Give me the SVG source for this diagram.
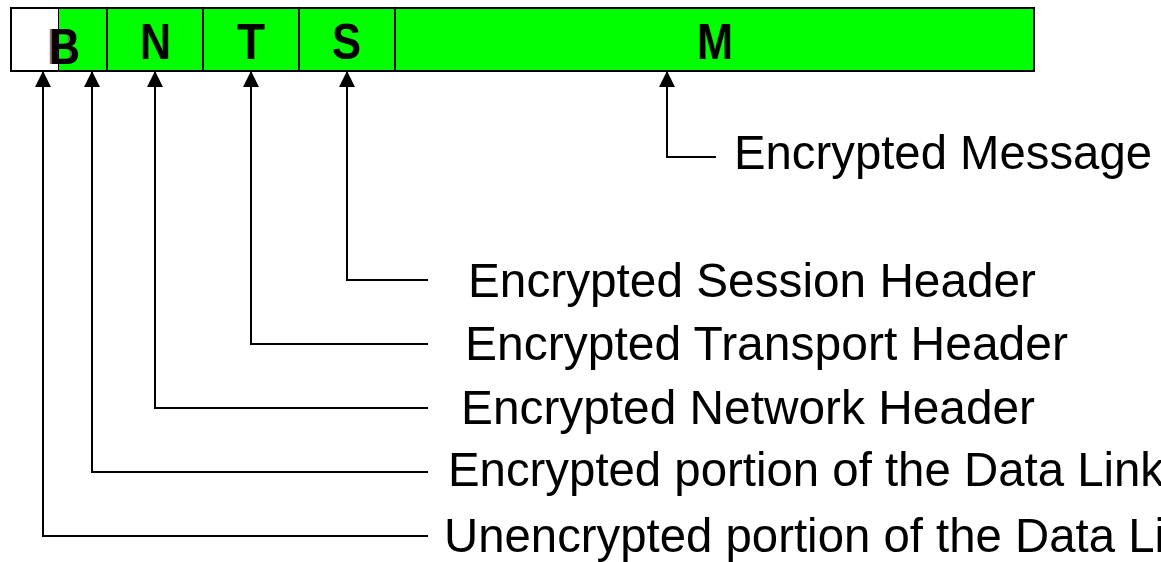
<svg xmlns="http://www.w3.org/2000/svg" width="1161" height="562" viewBox="0 0 1161 562">
  <style>
    .cell { stroke: #000; stroke-width: 2; }
    .green { fill: #00ff00; }
    .white { fill: #ffffff; }
    .tag { font-family: "Liberation Sans", Arial, sans-serif; font-weight: bold; font-size: 50px; fill: #000; }
    .shadow { fill: #777; }
    .label { font-family: "Liberation Sans", Arial, sans-serif; font-size: 49px; fill: #000; }
    .conn { fill: none; stroke: #000; stroke-width: 2; marker-end: url(#arrow); }
  </style>
  <defs>
    <marker id="arrow" viewBox="0 0 16 16" refX="16" refY="8" markerWidth="16" markerHeight="16" markerUnits="userSpaceOnUse" orient="auto">
      <path d="M0,0 L16,8 L0,16 Z" fill="#000"/>
    </marker>
  </defs>

  <!-- packet fields -->
  <g id="field-b-clear">
    <rect class="cell white" x="11" y="8" width="48" height="63"/>
  </g>
  <g id="field-b">
    <rect class="green" x="59" y="8" width="48" height="63"/>
    <text class="tag shadow" x="47" y="64" textLength="31" lengthAdjust="spacingAndGlyphs">B</text>
    <text class="tag" x="49" y="64" textLength="31" lengthAdjust="spacingAndGlyphs">B</text>
  </g>
  <g id="field-n">
    <rect class="cell green" x="107" y="8" width="96" height="63"/>
    <text class="tag" x="140" y="59" textLength="31" lengthAdjust="spacingAndGlyphs">N</text>
  </g>
  <g id="field-t">
    <rect class="cell green" x="203" y="8" width="96" height="63"/>
    <text class="tag" x="237" y="59" textLength="28" lengthAdjust="spacingAndGlyphs">T</text>
  </g>
  <g id="field-s">
    <rect class="cell green" x="299" y="8" width="96" height="63"/>
    <text class="tag" x="332" y="59" textLength="29" lengthAdjust="spacingAndGlyphs">S</text>
  </g>
  <g id="field-m">
    <rect class="cell green" x="395" y="8" width="639" height="63"/>
    <text class="tag" x="697" y="59" textLength="36" lengthAdjust="spacingAndGlyphs">M</text>
  </g>
  <!-- outline over the split first cell -->
  <rect x="11" y="8" width="96" height="63" fill="none" stroke="#000" stroke-width="2"/>

  <!-- leader lines -->
  <g id="connectors">
    <path class="conn" d="M716,157 H667 V71"/>
    <path class="conn" d="M428,280 H347 V71"/>
    <path class="conn" d="M428,344 H251 V71"/>
    <path class="conn" d="M428,408 H155 V71"/>
    <path class="conn" d="M428,472 H92 V71"/>
    <path class="conn" d="M428,536 H43 V71"/>
  </g>

  <!-- captions -->
  <g id="label-message"><text class="label" x="734" y="169" textLength="418" lengthAdjust="spacingAndGlyphs">Encrypted Message</text></g>
  <g id="label-session"><text class="label" x="468" y="297" textLength="568" lengthAdjust="spacingAndGlyphs">Encrypted Session Header</text></g>
  <g id="label-transport"><text class="label" x="465" y="360" textLength="603" lengthAdjust="spacingAndGlyphs">Encrypted Transport Header</text></g>
  <g id="label-network"><text class="label" x="461" y="424" textLength="574" lengthAdjust="spacingAndGlyphs">Encrypted Network Header</text></g>
  <g id="label-link-enc"><text class="label" x="448" y="486" textLength="716" lengthAdjust="spacingAndGlyphs">Encrypted portion of the Data Link</text></g>
  <g id="label-link-clear"><text class="label" x="444" y="552" textLength="771" lengthAdjust="spacingAndGlyphs">Unencrypted portion of the Data Link</text></g>
</svg>
